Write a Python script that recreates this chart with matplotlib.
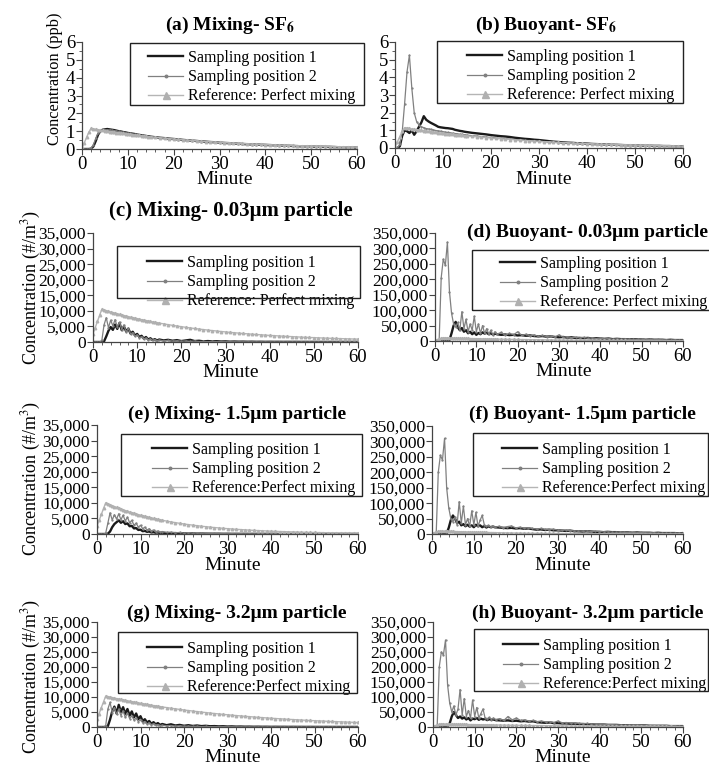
import matplotlib
matplotlib.use("Agg")
import matplotlib.pyplot as plt
from matplotlib.patches import Rectangle
from matplotlib.ticker import MultipleLocator, FuncFormatter
import numpy as np

plt.rcParams['font.family'] = ['Liberation Serif', 'DejaVu Serif']
plt.rcParams['mathtext.fontset'] = 'stix'

# sample times (minutes): every 0.5 min up to 14.5, then every minute to 60
minutes = np.r_[np.arange(0, 15, 0.5), np.arange(15, 61, 1)]

# ---- SF6, ppb ----
ref_sf6 = [0.05, 0.35, 0.65, 0.95, 1.15, 1.13, 1.11, 1.08, 1.06, 1.04,
           1.02, 1.00, 0.98, 0.96, 0.94, 0.92, 0.91, 0.89, 0.87, 0.85,
           0.84, 0.82, 0.80, 0.79, 0.77, 0.76, 0.74, 0.73, 0.71, 0.70,
           0.68, 0.66, 0.63, 0.61, 0.58, 0.56, 0.54, 0.52, 0.50, 0.48,
           0.46, 0.44, 0.42, 0.41, 0.39, 0.38, 0.36, 0.35, 0.33, 0.32,
           0.31, 0.30, 0.28, 0.27, 0.26, 0.25, 0.24, 0.23, 0.22, 0.21,
           0.21, 0.20, 0.19, 0.18, 0.18, 0.17, 0.16, 0.16, 0.15, 0.14,
           0.14, 0.13, 0.13, 0.12, 0.12, 0.11]

mix_sf6_p1 = [0, 0, 0, 0, 0.02, 0.15, 0.45, 0.8, 1.0, 1.08,
              1.1, 1.12, 1.1, 1.08, 1.06, 1.03, 1.0, 0.98, 0.95, 0.93,
              0.9, 0.88, 0.86, 0.84, 0.81, 0.79, 0.77, 0.75, 0.73, 0.71,
              0.69, 0.66, 0.63, 0.61, 0.58, 0.56, 0.54, 0.51, 0.49, 0.47,
              0.45, 0.43, 0.41, 0.39, 0.38, 0.36, 0.34, 0.33, 0.31, 0.30,
              0.28, 0.27, 0.26, 0.25, 0.24, 0.23, 0.22, 0.21, 0.20, 0.19,
              0.18, 0.17, 0.16, 0.15, 0.15, 0.14, 0.13, 0.13, 0.12, 0.12,
              0.11, 0.10, 0.10, 0.09, 0.09, 0.08]
mix_sf6_p2 = [0, 0, 0, 0, 0.05, 0.25, 0.6, 0.9, 1.02, 1.06,
              1.08, 1.08, 1.07, 1.05, 1.03, 1.01, 0.99, 0.96, 0.94, 0.92,
              0.89, 0.87, 0.85, 0.83, 0.80, 0.78, 0.76, 0.74, 0.72, 0.70,
              0.68, 0.65, 0.62, 0.60, 0.57, 0.55, 0.53, 0.50, 0.48, 0.46,
              0.44, 0.42, 0.40, 0.39, 0.37, 0.35, 0.34, 0.32, 0.31, 0.29,
              0.28, 0.27, 0.25, 0.24, 0.23, 0.22, 0.21, 0.20, 0.19, 0.18,
              0.18, 0.17, 0.16, 0.15, 0.14, 0.14, 0.13, 0.12, 0.12, 0.11,
              0.11, 0.10, 0.10, 0.09, 0.09, 0.08]

buo_sf6_p1 = [0, 0, 0.1, 0.7, 1.0, 0.95, 0.85, 1.0, 0.75, 0.95,
              1.2, 1.45, 1.8, 1.6, 1.5, 1.42, 1.35, 1.28, 1.2, 1.17,
              1.15, 1.13, 1.12, 1.1, 1.08, 1.03, 1.0, 0.97, 0.95, 0.92,
              0.9, 0.86, 0.83, 0.8, 0.77, 0.73, 0.7, 0.67, 0.65, 0.62,
              0.58, 0.55, 0.52, 0.5, 0.47, 0.45, 0.42, 0.39, 0.36, 0.34,
              0.32, 0.3, 0.29, 0.27, 0.26, 0.25, 0.23, 0.22, 0.21, 0.2,
              0.19, 0.18, 0.17, 0.16, 0.16, 0.15, 0.14, 0.13, 0.13, 0.12,
              0.12, 0.11, 0.11, 0.1, 0.1, 0.1]
buo_sf6_p2 = [0, 0, 0.2, 0.9, 2.5, 4.3, 5.25, 3.4, 2.0, 1.5,
              1.3, 1.2, 1.15, 1.1, 1.08, 1.05, 1.02, 0.99, 0.97, 0.95,
              0.92, 0.9, 0.88, 0.86, 0.84, 0.82, 0.8, 0.78, 0.77, 0.75,
              0.73, 0.7, 0.68, 0.65, 0.62, 0.6, 0.57, 0.55, 0.53, 0.5,
              0.48, 0.46, 0.44, 0.42, 0.4, 0.38, 0.36, 0.34, 0.32, 0.31,
              0.29, 0.27, 0.26, 0.25, 0.23, 0.22, 0.21, 0.2, 0.19, 0.18,
              0.17, 0.16, 0.15, 0.14, 0.13, 0.13, 0.12, 0.11, 0.11, 0.1,
              0.1, 0.09, 0.09, 0.08, 0.08, 0.07]

# ---- particles, thousands of #/m3 ----
ref_003 = [2.6, 4.6, 6.6, 8.6, 10.5, 10.28, 10.06, 9.85, 9.65, 9.45,
           9.25, 9.06, 8.87, 8.68, 8.50, 8.33, 8.15, 7.98, 7.82, 7.65,
           7.49, 7.34, 7.18, 7.03, 6.89, 6.74, 6.60, 6.47, 6.33, 6.20,
           6.07, 5.82, 5.58, 5.35, 5.13, 4.92, 4.72, 4.52, 4.34, 4.16,
           3.99, 3.82, 3.67, 3.52, 3.37, 3.23, 3.10, 2.97, 2.85, 2.73,
           2.62, 2.51, 2.41, 2.31, 2.21, 2.12, 2.04, 1.95, 1.87, 1.80,
           1.72, 1.65, 1.58, 1.52, 1.46, 1.40, 1.34, 1.28, 1.23, 1.18,
           1.13, 1.09, 1.04, 1.00, 0.96, 0.92]
ref_15 = [2.5, 4.4, 6.3, 8.2, 10.0, 9.69, 9.39, 9.10, 8.82, 8.54,
          8.28, 8.02, 7.77, 7.53, 7.30, 7.07, 6.85, 6.64, 6.43, 6.23,
          6.04, 5.85, 5.67, 5.49, 5.32, 5.16, 5.00, 4.84, 4.69, 4.55,
          4.41, 4.14, 3.89, 3.65, 3.43, 3.22, 3.02, 2.84, 2.67, 2.50,
          2.35, 2.21, 2.07, 1.95, 1.83, 1.71, 1.61, 1.51, 1.42, 1.33,
          1.25, 1.17, 1.10, 1.04, 0.97, 0.91, 0.86, 0.80, 0.76, 0.71,
          0.67, 0.63, 0.59, 0.55, 0.52, 0.49, 0.46, 0.43, 0.40, 0.38,
          0.36, 0.33, 0.31, 0.29, 0.28, 0.26]
ref_32 = [2.6, 4.5, 6.5, 8.4, 10.3, 10.13, 9.97, 9.80, 9.64, 9.48,
          9.33, 9.17, 9.02, 8.87, 8.73, 8.58, 8.44, 8.30, 8.17, 8.03,
          7.90, 7.77, 7.64, 7.52, 7.39, 7.27, 7.15, 7.03, 6.92, 6.80,
          6.69, 6.47, 6.26, 6.06, 5.86, 5.67, 5.49, 5.31, 5.14, 4.97,
          4.81, 4.65, 4.50, 4.35, 4.21, 4.07, 3.94, 3.81, 3.69, 3.57,
          3.45, 3.34, 3.23, 3.13, 3.02, 2.93, 2.83, 2.74, 2.65, 2.56,
          2.48, 2.40, 2.32, 2.25, 2.17, 2.10, 2.03, 1.97, 1.90, 1.84,
          1.78, 1.72, 1.67, 1.61, 1.56, 1.51]

mix_003_p1 = [0, 0, 0, 0, 0, 0.2, 1.8, 3.6, 4.8, 3.9,
              5.6, 4.2, 6.1, 3.8, 5.0, 3.4, 4.3, 2.7, 3.3, 2.1,
              2.6, 1.6, 2.0, 1.1, 1.6, 0.8, 1.2, 0.6, 0.9, 0.5,
              0.8, 0.5, 0.7, 0.4, 0.6, 0.3, 0.5, 0.7, 0.3, 0.4,
              0.2, 0.3, 0.2, 0.25, 0.15, 0.2, 0.1, 0.15, 0.1, 0.12,
              0.08, 0.1, 0.06, 0.08, 0.05, 0.07, 0.05, 0.06, 0.04, 0.05,
              0.04, 0.05, 0.03, 0.04, 0.03, 0.04, 0.03, 0.03, 0.02, 0.03,
              0.02, 0.03, 0.02, 0.02, 0.02, 0.02]
mix_003_p2 = [0, 0, 0, 0, 0.5, 5.5, 7.8, 4.6, 7.0, 5.2,
              7.2, 4.8, 6.4, 4.0, 5.5, 3.2, 4.4, 2.6, 3.0, 1.9,
              2.3, 1.4, 1.7, 1.0, 1.3, 0.7, 1.0, 0.5, 0.8, 0.4,
              0.6, 0.4, 0.5, 0.3, 0.4, 0.25, 0.35, 0.2, 0.3, 0.15,
              0.2, 0.12, 0.18, 0.1, 0.12, 0.08, 0.1, 0.06, 0.08, 0.05,
              0.06, 0.04, 0.05, 0.03, 0.04, 0.03, 0.03, 0.02, 0.03, 0.02,
              0.02, 0.02, 0.02, 0.01, 0.02, 0.01, 0.01, 0.01, 0.01, 0.01,
              0.01, 0.01, 0.01, 0.01, 0.01, 0.01]

mix_15_p1 = [0, 0, 0, 0, 0, 0.1, 0.8, 2.2, 3.2, 3.8,
             4.4, 3.6, 4.1, 3.2, 3.4, 2.5, 2.6, 1.8, 1.9, 1.3,
             1.4, 0.9, 1.0, 0.7, 0.8, 0.5, 0.6, 0.4, 0.5, 0.3,
             0.35, 0.3, 0.25, 0.3, 0.2, 0.25, 0.15, 0.2, 0.1, 0.15,
             0.1, 0.1, 0.08, 0.1, 0.06, 0.08, 0.05, 0.06, 0.04, 0.05,
             0.03, 0.04, 0.03, 0.03, 0.02, 0.03, 0.02, 0.02, 0.02, 0.02,
             0.01, 0.01, 0.01, 0.01, 0.01, 0.01, 0.01, 0.01, 0.01, 0.01,
             0.01, 0.01, 0.01, 0.01, 0.01, 0.01]
mix_15_p2 = [0, 0, 0, 0, 0.3, 3.5, 6.8, 4.5, 6.2, 4.8,
             6.5, 4.6, 6.0, 4.2, 5.4, 3.6, 4.4, 2.8, 3.5, 2.2,
             2.8, 1.7, 2.2, 1.3, 1.7, 1.0, 1.3, 0.8, 1.0, 0.6,
             0.8, 0.5, 0.6, 0.4, 0.5, 0.3, 0.4, 0.25, 0.3, 0.2,
             0.25, 0.15, 0.2, 0.12, 0.15, 0.1, 0.12, 0.08, 0.1, 0.06,
             0.08, 0.05, 0.06, 0.04, 0.05, 0.03, 0.04, 0.03, 0.03, 0.02,
             0.03, 0.02, 0.02, 0.02, 0.02, 0.01, 0.02, 0.01, 0.01, 0.01,
             0.01, 0.01, 0.01, 0.01, 0.01, 0.01]

mix_32_p1 = [0, 0, 0, 0, 0, 0.3, 2.5, 5.2, 6.8, 4.5,
             7.4, 5.0, 6.6, 4.4, 6.0, 3.8, 5.2, 3.2, 4.5, 2.6,
             3.6, 2.0, 2.6, 1.5, 2.0, 1.1, 1.6, 0.9, 1.3, 0.7,
             1.0, 0.6, 0.9, 0.5, 0.7, 0.4, 0.6, 0.35, 0.5, 0.3,
             0.4, 0.25, 0.3, 0.2, 0.25, 0.15, 0.2, 0.12, 0.15, 0.1,
             0.12, 0.08, 0.1, 0.07, 0.08, 0.05, 0.07, 0.05, 0.06, 0.04,
             0.05, 0.04, 0.04, 0.03, 0.04, 0.03, 0.03, 0.02, 0.03, 0.02,
             0.02, 0.02, 0.02, 0.02, 0.02, 0.02]
mix_32_p2 = [0, 0, 0, 0, 0.5, 6.0, 8.2, 4.8, 6.5, 4.2,
             6.0, 3.8, 5.4, 3.2, 4.6, 2.8, 3.8, 2.3, 3.0, 1.8,
             2.4, 1.4, 1.8, 1.0, 1.4, 0.8, 1.1, 0.6, 0.8, 0.5,
             0.6, 0.4, 0.5, 0.3, 0.4, 0.25, 0.3, 0.2, 0.25, 0.15,
             0.2, 0.12, 0.15, 0.1, 0.12, 0.08, 0.1, 0.06, 0.08, 0.05,
             0.06, 0.04, 0.05, 0.03, 0.04, 0.03, 0.03, 0.02, 0.03, 0.02,
             0.02, 0.02, 0.02, 0.02, 0.02, 0.01, 0.02, 0.01, 0.01, 0.01,
             0.01, 0.01, 0.01, 0.01, 0.01, 0.01]

buo_003_p1 = [0, 0, 0, 0, 0, 0, 1, 3, 25, 50,
              62, 45, 35, 42, 30, 35, 25, 30, 22, 28,
              20, 26, 22, 28, 24, 27, 22, 25, 21, 24,
              22, 20, 21, 19, 20, 18, 19, 17, 18, 16,
              15, 16, 14, 15, 13, 12, 13, 11, 12, 10,
              10, 9, 10, 8, 9, 8, 7, 8, 6, 7,
              6, 6, 5, 6, 5, 5, 4, 5, 4, 4,
              4, 3, 4, 3, 3, 3]
buo_003_p2 = [0, 0, 0, 205, 265, 245, 320, 160, 90, 55,
              45, 60, 35, 95, 40, 70, 30, 55, 35, 80,
              30, 55, 25, 50, 25, 40, 22, 35, 20, 30,
              22, 28, 18, 25, 20, 30, 18, 22, 16, 20,
              15, 18, 14, 16, 13, 20, 12, 14, 11, 12,
              10, 12, 9, 10, 8, 9, 7, 8, 6, 7,
              6, 7, 5, 6, 5, 6, 4, 5, 4, 5,
              4, 4, 3, 4, 3, 3]

buo_15_p1 = [0, 0, 0, 0, 0, 0, 0, 2, 20, 45,
             60, 50, 35, 40, 28, 32, 25, 30, 24, 28,
             22, 30, 25, 28, 22, 26, 21, 25, 22, 24,
             22, 21, 20, 19, 20, 18, 19, 17, 18, 16,
             14, 15, 13, 14, 12, 12, 11, 10, 11, 9,
             9, 8, 9, 8, 7, 7, 6, 7, 6, 6,
             5, 5, 5, 4, 5, 4, 4, 4, 3, 4,
             3, 3, 3, 3, 2, 3]
buo_15_p2 = [0, 0, 0, 200, 255, 240, 310, 150, 85, 50,
             40, 55, 30, 105, 35, 90, 30, 50, 25, 75,
             30, 70, 25, 45, 60, 30, 25, 28, 22, 26,
             22, 25, 20, 24, 26, 20, 22, 19, 20, 18,
             16, 18, 15, 14, 16, 13, 12, 13, 11, 10,
             10, 9, 10, 8, 9, 8, 7, 7, 6, 6,
             6, 5, 5, 5, 4, 5, 4, 4, 4, 3,
             3, 3, 3, 3, 3, 3]

buo_32_p1 = [0, 0, 0, 0, 0, 0, 0, 3, 12, 35,
             50, 40, 30, 35, 28, 32, 25, 30, 22, 28,
             26, 30, 24, 28, 25, 27, 23, 26, 24, 25,
             23, 22, 21, 22, 20, 21, 19, 20, 18, 19,
             16, 15, 14, 15, 13, 13, 12, 12, 11, 11,
             10, 10, 9, 9, 8, 8, 8, 7, 7, 7,
             6, 6, 6, 5, 5, 5, 5, 4, 4, 4,
             4, 4, 3, 3, 3, 3]
buo_32_p2 = [0, 0, 0, 200, 250, 240, 290, 140, 80, 50,
             70, 40, 60, 125, 40, 95, 35, 55, 30, 90,
             35, 65, 30, 45, 60, 30, 28, 32, 25, 30,
             25, 28, 22, 35, 24, 30, 22, 24, 20, 22,
             18, 20, 17, 18, 15, 20, 14, 15, 13, 14,
             12, 11, 12, 10, 10, 9, 9, 8, 8, 7,
             7, 6, 7, 6, 6, 5, 5, 5, 5, 4,
             4, 4, 4, 4, 3, 3]

labels_ab = ["Sampling position 1", "Sampling position 2", "Reference: Perfect mixing"]
labels_ef = ["Sampling position 1", "Sampling position 2", "Reference:Perfect mixing"]

W, H = 709, 768
fig = plt.figure(figsize=(W / 100, H / 100), dpi=100)
fig.patch.set_facecolor('white')


def fx(px):
    return px / W


def fy(py):
    return 1 - py / H


def comma_fmt(v, _):
    return f"{v:,.0f}"


def draw_panel(box, p1, p2, ref, scale, ymax, ystep, yminor, labels,
               legend_at, frame, title, title_at, title_ha, title_size=14):
    x0, top, x1, bot = box
    ax = fig.add_axes([fx(x0), fy(bot), fx(x1) - fx(x0), fy(top) - fy(bot)])
    h1, = ax.plot(minutes, np.array(p1) * scale, color='#1a1a1a', lw=1.7)
    h2, = ax.plot(minutes, np.array(p2) * scale, color='#808080', lw=0.9,
                  marker='.', ms=1.3)
    h3, = ax.plot(minutes, np.array(ref) * scale, color='#b5b5b5', lw=1.0,
                  marker='^', ms=1.8, mec='#b0b0b0', mfc='#b0b0b0')
    ax.set_xlim(0, 60)
    ax.set_ylim(0, ymax)
    ax.xaxis.set_major_locator(MultipleLocator(10))
    ax.xaxis.set_minor_locator(MultipleLocator(2))
    ax.yaxis.set_major_locator(MultipleLocator(ystep))
    if yminor:
        ax.yaxis.set_minor_locator(MultipleLocator(yminor))
    if scale > 1:
        ax.yaxis.set_major_formatter(FuncFormatter(comma_fmt))
        ax.tick_params(axis='y', labelsize=12.5)
    else:
        ax.tick_params(axis='y', labelsize=13.5)
    ax.tick_params(axis='x', labelsize=13.5)
    ax.tick_params(which='major', direction='out', length=4, width=0.8,
                   pad=1, color='#444')
    ax.tick_params(which='minor', direction='out', length=2, width=0.6,
                   color='#444')
    for s in ['top', 'right']:
        ax.spines[s].set_visible(False)
    for s in ['left', 'bottom']:
        ax.spines[s].set_color('#444')
        ax.spines[s].set_linewidth(0.9)
    ax.patch.set_alpha(0)

    ax.legend([h1, h2, h3], labels, loc='upper left',
              bbox_to_anchor=(fx(legend_at[0]), fy(legend_at[1] + 3)),
              bbox_transform=fig.transFigure, frameon=False, borderpad=0,
              borderaxespad=0, handlelength=2.2, handletextpad=0.3,
              labelspacing=0.2, fontsize=11.5, markerscale=2.8)
    fx0, fy0, fx1, fy1 = frame
    fig.add_artist(Rectangle((fx(fx0), fy(fy1)), fx(fx1) - fx(fx0),
                             fy(fy0) - fy(fy1), transform=fig.transFigure,
                             fill=False, edgecolor='#222', lw=1.0))
    fig.text(fx(title_at[0]), fy(title_at[1]), title, ha=title_ha,
             va='center', fontsize=title_size, fontweight='bold')
    fig.text(fx((x0 + x1) / 2 + 5), fy(bot + 31), "Minute", ha='center',
             va='center', fontsize=14)
    return ax


draw_panel((82, 42, 357, 149), mix_sf6_p1, mix_sf6_p2, ref_sf6, 1, 6, 1, 0.5,
           labels_ab, (148, 47), (130, 43, 364, 105),
           r"(a) Mixing- SF$_\mathbf{6}$", (230, 25), 'center')
draw_panel((395, 42, 683, 148), buo_sf6_p1, buo_sf6_p2, ref_sf6, 1, 6, 1, 0.5,
           labels_ab, (467, 46), (437, 41, 683, 103),
           r"(b) Buoyant- SF$_\mathbf{6}$", (546, 25), 'center')
draw_panel((93, 233, 358, 342), mix_003_p1, mix_003_p2, ref_003, 1000, 35000,
           5000, None, labels_ab, (147, 252), (117, 246, 360, 298),
           "(c) Mixing- 0.03μm particle", (231, 211), 'center', 15)
draw_panel((435, 233, 683, 341), buo_003_p1, buo_003_p2, ref_003, 1000, 350000,
           50000, None, labels_ab, (500, 253), (472, 250, 712, 310),
           "(d) Buoyant- 0.03μm particle", (467, 232), 'left', 14)
draw_panel((97, 425, 358, 534), mix_15_p1, mix_15_p2, ref_15, 1000, 35000,
           5000, None, labels_ef, (152, 439), (121, 434, 362, 496),
           "(e) Mixing- 1.5μm particle", (237, 414), 'center')
draw_panel((432, 426, 683, 534), buo_15_p1, buo_15_p2, ref_15, 1000, 350000,
           50000, None, labels_ef, (502, 439), (473, 433, 708, 496),
           "(f) Buoyant- 1.5μm particle", (582, 414), 'center')
draw_panel((97, 622, 358, 727), mix_32_p1, mix_32_p2, ref_32, 1000, 35000,
           5000, None, labels_ef, (147, 638), (118, 632, 357, 693),
           "(g) Mixing- 3.2μm particle", (237, 613), 'center')
draw_panel((433, 622, 683, 727), buo_32_p1, buo_32_p2, ref_32, 1000, 350000,
           50000, None, labels_ef, (503, 635), (474, 629, 708, 691),
           "(h) Buoyant- 3.2μm particle", (588, 613), 'center')

fig.text(fx(55), fy(79), "Concentration (ppb)", rotation=90, ha='center',
         va='center', fontsize=11.8)
for yc in (287, 478, 676):
    fig.text(fx(31), fy(yc), "Concentration (#/m$^3$)", rotation=90,
             ha='center', va='center', fontsize=13)

fig.savefig("out.png", dpi=100, facecolor='white')
